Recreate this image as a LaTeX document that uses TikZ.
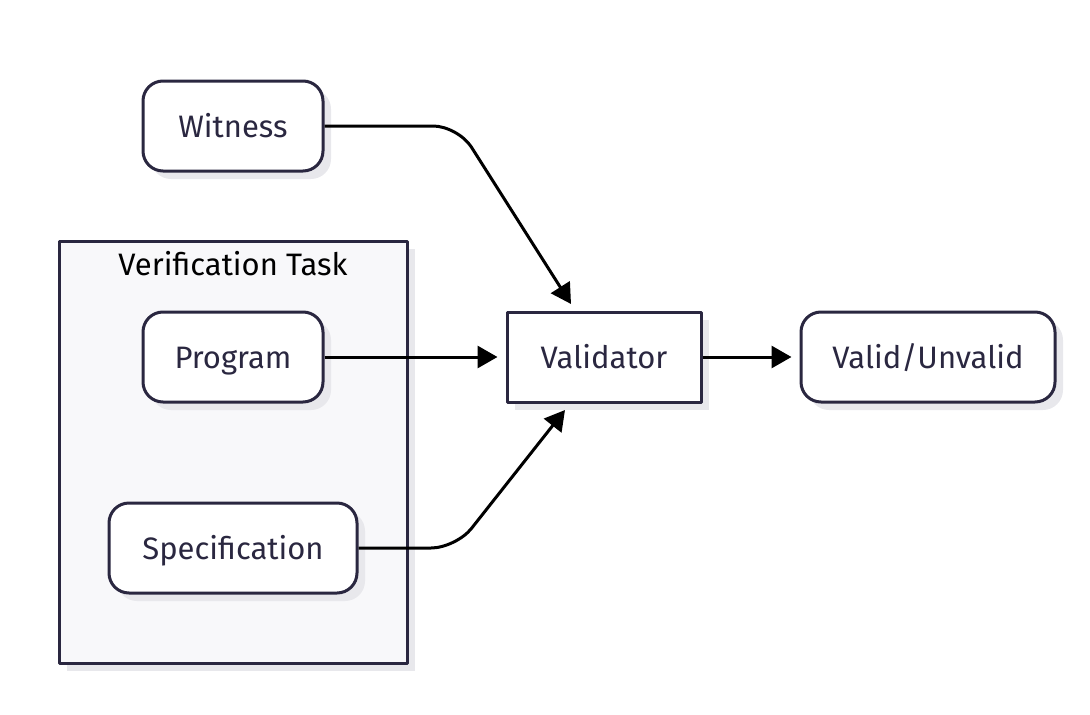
\documentclass[tikz,border=0pt]{standalone}
\usepackage{fontspec}
\setmainfont{Fira Sans}
\usetikzlibrary{arrows.meta,shadows}
\definecolor{nodeline}{HTML}{2A2740}
\definecolor{clusterbg}{HTML}{F8F8FA}
\definecolor{shade}{HTML}{E8E8EC}
\tikzset{
  box/.style={draw=nodeline,line width=3pt,fill=white,text=nodeline,minimum height=90pt,inner sep=0pt,
    text height=28pt,text depth=6pt,
    drop shadow={shadow xshift=8pt,shadow yshift=-8pt,fill=shade,opacity=1}},
  roundbox/.style={box,rounded corners=20pt},
  link/.style={line width=3pt,-{Triangle[length=20pt,width=22pt]},rounded corners=25pt},
}
\begin{document}
\begin{tikzpicture}[x=1pt,y=-1pt,font=\fontsize{31}{36}\selectfont,line join=round]
  \useasboundingbox (0,0) rectangle (1090,715);
  % task group
  \node[box,fill=clusterbg,minimum width=348pt,minimum height=422pt] (task) at (233,452) {};
  \node[text=black,text height=28pt,text depth=6pt] (tasktitle) at (233,264) {Verification Task};
  \node[roundbox,minimum width=180pt] (witness) at (233,126) {Witness};
  \node[roundbox,minimum width=180pt] (program) at (233,357) {Program};
  \node[roundbox,minimum width=248pt] (spec) at (233,548) {Specification};
  \node[box,minimum width=194pt] (validator) at (604,357) {Validator};
  \node[roundbox,minimum width=254pt] (result) at (928,357) {Valid/Unvalid};
  \coordinate (wbend) at (458,126);
  \coordinate (wtip) at (571,304);
  \coordinate (sbend) at (456,548);
  \coordinate (stip) at (565,410);
  % links
  \draw[link] (witness.east) -- (wbend) -- (wtip);
  \draw[link] (program.east) -- ([xshift=-8pt]validator.west);
  \draw[link] (spec.east) -- (sbend) -- (stip);
  \draw[link] (validator.east) -- ([xshift=-8pt]result.west);
\end{tikzpicture}
\end{document}
